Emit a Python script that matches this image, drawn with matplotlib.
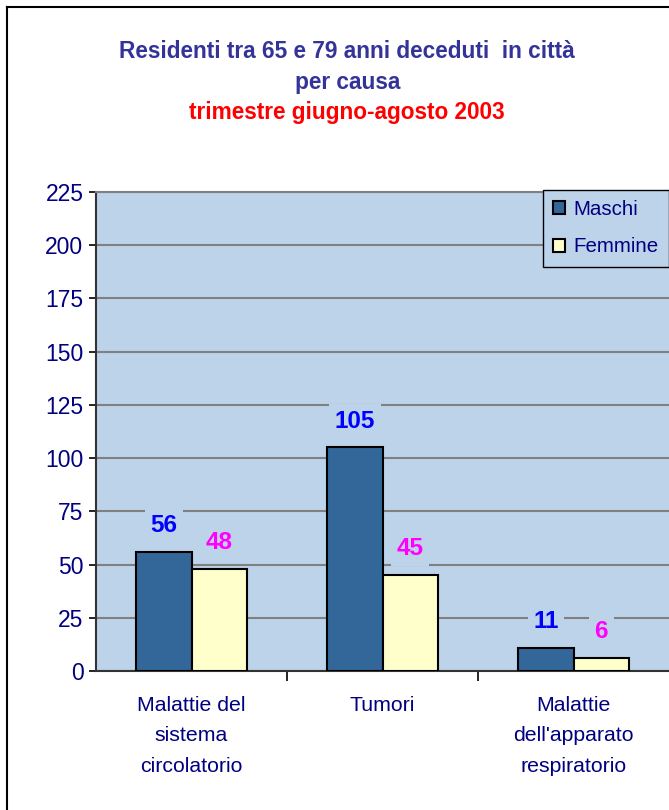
import matplotlib.pyplot as plt
import numpy as np
from matplotlib.lines import Line2D

plt.rcParams['font.family'] = ['Liberation Sans', 'DejaVu Sans']

categories = ['Malattie del\nsistema\ncircolatorio', 'Tumori', 'Malattie\ndell\'apparato\nrespiratorio']
maschi = [56, 105, 11]
femmine = [48, 45, 6]
yticks = [0, 25, 50, 75, 100, 125, 150, 175, 200, 225]

bg = '#BDD3EA'
navy = '#000080'

fig = plt.figure(figsize=(6.69, 8.1), dpi=100)
ax = fig.add_axes([96 / 669, 1 - 671 / 810, 1 - 96 / 669, (671 - 192) / 810])
ax.set_facecolor(bg)

x = np.arange(len(categories))
w = 0.29
b1 = ax.bar(x - w / 2, maschi, w, color='#336699', edgecolor='black', linewidth=1.5,
            label='Maschi', zorder=3)
b2 = ax.bar(x + w / 2, femmine, w, color='#FFFFCC', edgecolor='black', linewidth=1.5,
            label='Femmine', zorder=3)

for bars, vals, col in [(b1, maschi, '#0000FF'), (b2, femmine, '#FF00FF')]:
    for r, v in zip(bars, vals):
        ax.annotate(str(v), (r.get_x() + r.get_width() / 2, v), xytext=(0, 19),
                    textcoords='offset points', ha='center', va='center',
                    fontsize=17.5, fontweight='bold', color=col, zorder=4,
                    bbox=dict(facecolor=bg, edgecolor='none', pad=4))

ax.set_xlim(-0.5, 2.5)
ax.set_ylim(0, 225)
ax.set_yticks(yticks)
ax.yaxis.grid(True, color='#808080', linewidth=1.5, zorder=0)
ax.set_axisbelow(True)
ax.tick_params(axis='y', labelsize=16.5, labelcolor=navy, length=5, width=1.2, pad=4)

ax.set_xticks(x)
ax.set_xticklabels(categories, fontsize=15.3, color=navy, linespacing=1.75)
ax.tick_params(axis='x', length=0, pad=18)
ax.set_xticks([0.5, 1.5], minor=True)
ax.tick_params(axis='x', which='minor', length=7, width=1.2, direction='out')

for s in ['left', 'bottom']:
    ax.spines[s].set_color('#333333')
    ax.spines[s].set_linewidth(1.5)
ax.spines['top'].set_color('#808080')
ax.spines['top'].set_linewidth(1.5)
ax.spines['right'].set_visible(False)

leg = ax.legend(loc='upper right', bbox_to_anchor=(1.0, 1.005), fontsize=14.8,
                facecolor=bg, edgecolor='black', framealpha=1, fancybox=False,
                handlelength=0.6, handleheight=0.6, handletextpad=0.4,
                borderpad=0.5, labelspacing=0.9, borderaxespad=0)
leg.get_frame().set_linewidth(1.0)
for t in leg.get_texts():
    t.set_color(navy)

fig.text(0.519, 1 - 52 / 810, 'Residenti tra 65 e 79 anni deceduti  in città', ha='center',
         va='center', fontsize=16.3, fontweight='bold', color='#333399')
fig.text(0.519, 1 - 82 / 810, 'per causa', ha='center', va='center', fontsize=16.3,
         fontweight='bold', color='#333399')
fig.text(0.519, 1 - 112 / 810, 'trimestre giugno-agosto 2003', ha='center', va='center',
         fontsize=16.3, fontweight='bold', color='#FF0000')

fig.add_artist(Line2D([7 / 669, 7 / 669], [0, 1 - 7 / 810], color='black', linewidth=1.5))
fig.add_artist(Line2D([7 / 669, 1], [1 - 7 / 810, 1 - 7 / 810], color='black', linewidth=1.5))

fig.savefig('out.png', dpi=100)
